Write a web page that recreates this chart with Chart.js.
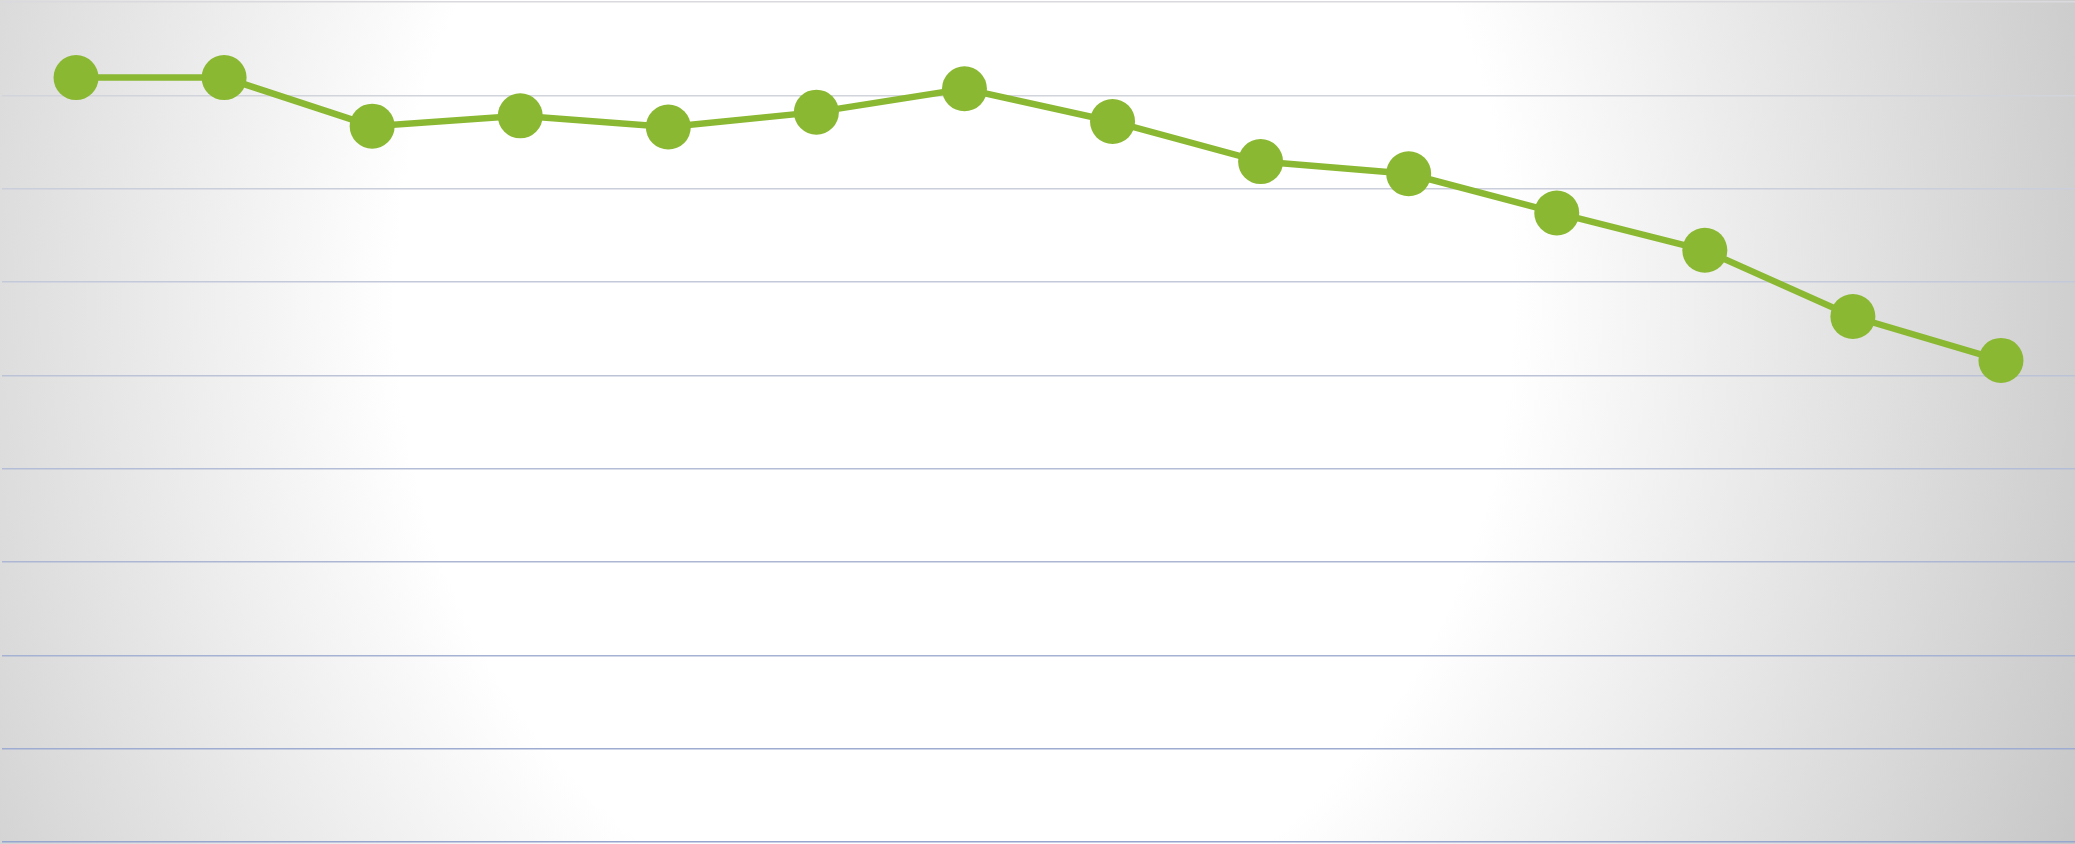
<!DOCTYPE html>
<html>
<head>
<meta charset="utf-8">
<script src="https://cdn.jsdelivr.net/npm/chart.js@4/dist/chart.umd.min.js"></script>
<style>
    html, body { margin: 0; padding: 0; }
    body {
        width: 2075px;
        height: 844px;
        overflow: hidden;
        background: radial-gradient(ellipse 1240px 1450px at 955px 300px, #ffffff 45%, #c5c5c5 100%);
    }
    #chartBox { position: relative; width: 2075px; height: 844px; }
</style>
</head>
<body>
<div id="chartBox"><canvas id="trendChart"></canvas></div>
<script>
// categories carry no visible labels in the reference
var categories = ['1', '2', '3', '4', '5', '6', '7', '8', '9', '10', '11', '12', '13', '14'];
var values = [8.19, 8.19, 7.67, 7.78, 7.66, 7.82, 8.07, 7.72, 7.29, 7.16, 6.74, 6.34, 5.63, 5.16];
var yMin = 0;
var yMax = 9;

// gridline colour goes from grey at the top to blue-grey at the bottom
function gridColor(ctx) {
    var t = ctx.tick ? (ctx.tick.value - yMin) / (yMax - yMin) : 0;
    var top = [218, 218, 222], bottom = [150, 166, 207];
    var c = top.map(function(v, i) { return Math.round(bottom[i] + (v - bottom[i]) * t); });
    return 'rgb(' + c.join(',') + ')';
}

document.addEventListener('DOMContentLoaded', function() {
    var ctx = document.getElementById('trendChart');

    new Chart(ctx, {
        type: 'line',
        data: {
            labels: categories,
            datasets: [{
                data: values,
                borderColor: '#8BB833',
                backgroundColor: '#8BB833',
                borderWidth: 6.5,
                pointRadius: 22.5,
                pointHoverRadius: 22.5,
                pointBorderWidth: 0,
                tension: 0
            }]
        },
        options: {
            responsive: true,
            maintainAspectRatio: false,
            animation: false,
            events: [],
            layout: { autoPadding: false, padding: { left: 2, top: 2, bottom: 2, right: 0 } },
            plugins: {
                legend: { display: false },
                tooltip: { enabled: false }
            },
            scales: {
                x: {
                    display: false,
                    offset: true
                },
                y: {
                    min: yMin,
                    max: yMax,
                    ticks: { display: false, stepSize: 1 },
                    border: { display: false },
                    grid: { drawTicks: false, color: gridColor, lineWidth: 1.6 }
                }
            }
        }
    });
});
</script>
</body>
</html>
